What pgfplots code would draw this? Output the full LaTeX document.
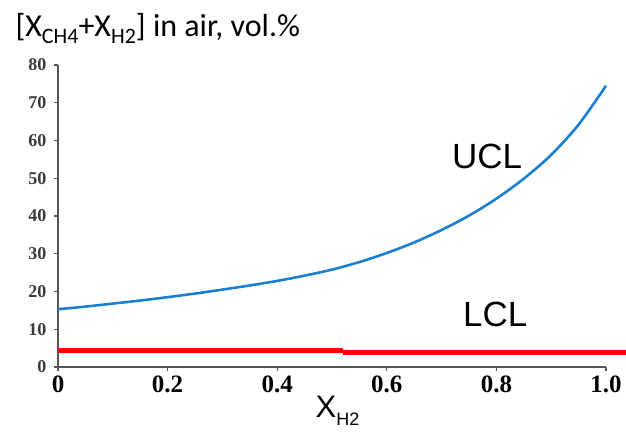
\documentclass[border=0pt]{standalone}
\usepackage{fontspec}
\setmainfont{Liberation Serif}
\newfontfamily\arialfont{Liberation Sans}
\newfontfamily\calibrifont{Carlito}
\usepackage{pgfplots}
\pgfplotsset{compat=1.18}
\definecolor{uclblue}{HTML}{1B7FD3}
\definecolor{axisgray}{HTML}{555555}
\definecolor{ticktext}{HTML}{3A3A3A}
\begin{document}
\begin{tikzpicture}[x=1pt,y=1pt]
\path[use as bounding box] (0,0) rectangle (626,435);
\begin{axis}[
  at={(58pt,68pt)}, anchor=south west,
  scale only axis, width=548pt, height=302pt,
  xmin=0, xmax=1, ymin=0, ymax=80,
  axis lines*=left,
  axis line style={axisgray, line width=1.3pt},
  tick style={axisgray, line width=1.1pt},
  tick align=outside, major tick length=4pt,
  xtick={0,0.2,0.4,0.6,0.8,1.0},
  xticklabels={0,0.2,0.4,0.6,0.8,1.0},
  ytick={0,10,...,80},
  /pgf/number format/assume math mode=true,
  xticklabel style={font=\bfseries\fontsize{25}{25}\selectfont, yshift=-1pt},
  yticklabel style={font=\bfseries\fontsize{18}{18}\selectfont, text=ticktext, xshift=-4pt},
  clip=false,
]
% upper combustion limit
\addplot[uclblue, line width=2.6pt, smooth, tension=0.5] coordinates {
  (0,15.3) (0.05,16.0) (0.1,16.8) (0.15,17.6) (0.2,18.5) (0.25,19.45)
  (0.3,20.5) (0.35,21.6) (0.4,22.8) (0.45,24.2) (0.5,25.8) (0.55,27.8)
  (0.6,30.2) (0.65,33.0) (0.7,36.3) (0.75,40.1) (0.8,44.6) (0.85,49.9)
  (0.9,56.2) (0.95,64.2) (1.0,74.5)
};
% lower combustion limit
\addplot[red, line width=4.8pt] coordinates {(0,4.3) (0.52,4.3)};
\addplot[red, line width=4.8pt] coordinates {(0.52,3.9) (1.036,3.9)};
\node[font=\arialfont\fontsize{35}{35}\selectfont] at (axis cs:0.783,55.8) {UCL};
\node[font=\arialfont\fontsize{35}{35}\selectfont] at (axis cs:0.798,13.9) {LCL};
\node[font=\arialfont\fontsize{31}{31}\selectfont] at (axis cs:0.51,-11.7)
  {X\raisebox{-0.25em}{\fontsize{18}{18}\selectfont H2}};
\end{axis}
\node[anchor=base west, font=\calibrifont\fontsize{32}{32}\selectfont] at (12,398)
  {[X\raisebox{-0.2em}{\fontsize{22}{22}\selectfont CH4}+X\raisebox{-0.2em}{\fontsize{22}{22}\selectfont H2}] in air, vol.\%};
\end{tikzpicture}
\end{document}
